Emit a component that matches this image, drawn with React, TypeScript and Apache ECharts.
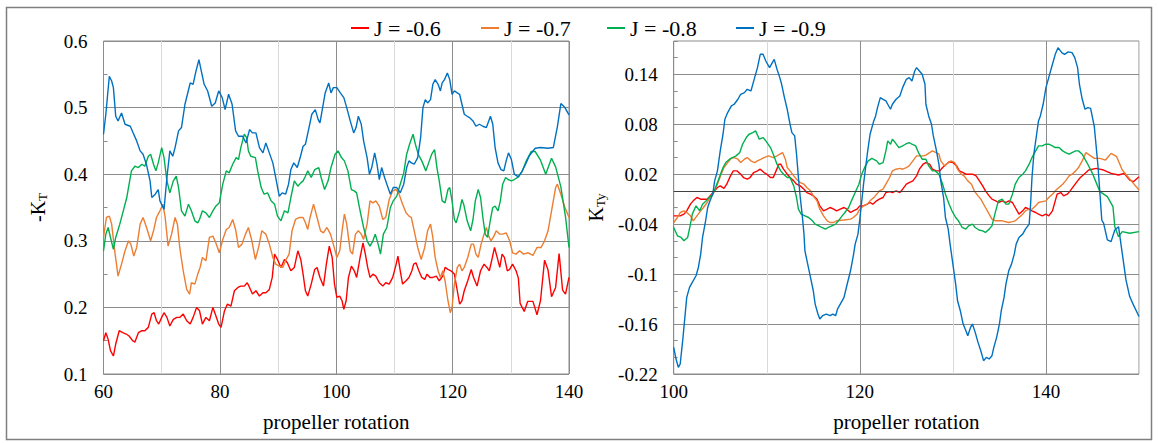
import React, { useEffect, useRef } from 'react';
import * as echarts from 'echarts';

// ---------- data ----------
const seriesNames = ['J = -0.6', 'J = -0.7', 'J = -0.8', 'J = -0.9'];
const seriesColors = ['#FF0000', '#ED7D31', '#00B050', '#0070C0'];

const leftXTickLabels = ['60', '80', '100', '120', '140'];
const leftYTickLabels = ['0.1', '0.2', '0.3', '0.4', '0.5', '0.6'];
const rightXTickLabels = ['100', '120', '140'];
const rightYTickLabels = ['-0.22', '-0.16', '-0.1', '-0.04', '0.02', '0.08', '0.14'];

// Left chart: -K_T vs propeller rotation
const leftJ06 = [[60,0.15],[60.4,0.162],[60.8,0.152],[61.2,0.135],[61.7,0.127],[62.1,0.145],[62.7,0.165],[63.3,0.162],[63.9,0.16],[64.4,0.157],[65.0,0.15],[65.4,0.148],[66.0,0.162],[66.6,0.165],[67.1,0.165],[67.7,0.17],[68.3,0.19],[68.7,0.192],[69.1,0.18],[69.5,0.175],[70.0,0.185],[70.4,0.192],[70.9,0.185],[71.4,0.172],[72.0,0.182],[72.6,0.185],[73.1,0.185],[73.7,0.19],[74.3,0.18],[74.9,0.175],[75.4,0.185],[76.0,0.2],[76.5,0.195],[77.0,0.175],[77.6,0.185],[78.2,0.18],[78.8,0.2],[79.2,0.19],[79.8,0.175],[80.2,0.17],[80.8,0.195],[81.3,0.205],[81.9,0.202],[82.5,0.225],[83.1,0.23],[83.6,0.232],[84.2,0.232],[84.7,0.237],[85.1,0.23],[85.6,0.22],[86.2,0.225],[86.8,0.217],[87.4,0.222],[87.9,0.222],[88.5,0.227],[89.0,0.245],[89.4,0.28],[89.9,0.272],[90.5,0.26],[91.1,0.272],[91.6,0.267],[92.2,0.255],[92.8,0.26],[93.4,0.285],[93.9,0.272],[94.3,0.25],[94.7,0.225],[95.1,0.217],[95.7,0.235],[96.3,0.257],[96.7,0.26],[97.2,0.245],[97.8,0.232],[98.3,0.265],[98.8,0.292],[99.3,0.275],[99.7,0.235],[100.1,0.215],[100.6,0.217],[101.0,0.21],[101.3,0.197],[101.7,0.21],[102.1,0.245],[102.6,0.262],[103.1,0.255],[103.5,0.245],[104.1,0.275],[104.6,0.297],[105.0,0.28],[105.4,0.26],[105.8,0.245],[106.3,0.25],[106.8,0.247],[107.4,0.237],[108.0,0.232],[108.5,0.237],[109.1,0.235],[109.7,0.245],[110.3,0.265],[110.6,0.277],[111.0,0.255],[111.4,0.235],[112.0,0.24],[112.5,0.245],[113.0,0.255],[113.3,0.265],[113.7,0.267],[114.2,0.255],[114.7,0.245],[115.2,0.242],[115.6,0.25],[116.1,0.245],[116.6,0.245],[117.2,0.247],[117.7,0.24],[118.3,0.247],[118.7,0.26],[119.2,0.257],[119.7,0.255],[120.3,0.25],[120.8,0.225],[121.2,0.205],[121.6,0.21],[122.0,0.225],[122.6,0.24],[123.2,0.257],[123.6,0.245],[124.2,0.232],[124.8,0.255],[125.4,0.265],[125.9,0.26],[126.3,0.255],[126.7,0.27],[127.2,0.29],[127.6,0.277],[128.1,0.26],[128.5,0.28],[128.9,0.275],[129.4,0.255],[129.8,0.257],[130.3,0.265],[130.9,0.255],[131.3,0.244],[131.6,0.206],[132.3,0.194],[132.9,0.209],[133.8,0.209],[134.5,0.189],[135.1,0.21],[135.8,0.271],[136.4,0.256],[137.0,0.216],[137.7,0.23],[138.3,0.281],[138.9,0.226],[139.4,0.22],[140,0.245]];

const leftJ07 = [[60,0.305],[60.5,0.335],[61.0,0.337],[61.4,0.325],[62.0,0.28],[62.5,0.247],[63.1,0.265],[63.7,0.285],[64.3,0.3],[64.7,0.295],[65.2,0.277],[65.7,0.29],[66.3,0.325],[66.8,0.335],[67.4,0.32],[68.1,0.3],[68.6,0.315],[69.1,0.335],[69.7,0.345],[70.2,0.355],[70.6,0.335],[71.1,0.292],[71.7,0.31],[72.3,0.335],[72.7,0.325],[73.1,0.29],[73.7,0.255],[74.3,0.227],[74.8,0.22],[75.1,0.237],[75.7,0.235],[76.2,0.25],[76.6,0.26],[77.0,0.275],[77.6,0.27],[78.2,0.305],[78.8,0.307],[79.3,0.297],[79.9,0.282],[80.5,0.302],[81.1,0.317],[81.6,0.32],[82.2,0.332],[82.7,0.317],[83.2,0.29],[83.8,0.295],[84.4,0.31],[84.9,0.32],[85.5,0.3],[86.1,0.272],[86.7,0.292],[87.2,0.315],[87.9,0.31],[88.5,0.295],[89.1,0.275],[89.6,0.265],[90.2,0.262],[90.8,0.26],[91.4,0.272],[91.9,0.28],[92.4,0.315],[93.0,0.332],[93.7,0.335],[94.3,0.335],[94.7,0.327],[95.1,0.317],[95.5,0.335],[96.1,0.355],[96.7,0.335],[97.3,0.315],[97.8,0.312],[98.4,0.32],[99.0,0.31],[99.5,0.295],[100.1,0.275],[100.6,0.285],[101.0,0.315],[101.4,0.34],[101.8,0.325],[102.4,0.285],[102.8,0.28],[103.3,0.31],[103.8,0.315],[104.3,0.31],[104.7,0.302],[105.3,0.325],[105.8,0.36],[106.3,0.357],[106.8,0.36],[107.4,0.352],[108.0,0.332],[108.5,0.335],[109.1,0.362],[109.7,0.375],[110.3,0.377],[110.8,0.37],[111.4,0.355],[112.0,0.342],[112.5,0.337],[112.9,0.335],[113.4,0.315],[114.0,0.29],[114.6,0.272],[115.2,0.29],[115.7,0.315],[116.2,0.325],[116.6,0.305],[117.0,0.275],[117.5,0.255],[117.9,0.245],[118.3,0.255],[118.7,0.24],[119.2,0.21],[119.6,0.192],[119.9,0.2],[120.3,0.235],[120.8,0.26],[121.2,0.265],[121.6,0.255],[122.0,0.26],[122.6,0.275],[123.2,0.295],[123.6,0.295],[124.0,0.28],[124.4,0.275],[124.9,0.295],[125.4,0.31],[125.8,0.32],[126.2,0.307],[126.6,0.3],[127.1,0.307],[127.5,0.315],[128.1,0.31],[128.6,0.31],[129.2,0.312],[129.8,0.3],[130.3,0.282],[130.9,0.28],[131.5,0.285],[132.2,0.28],[133.0,0.282],[133.8,0.278],[134.5,0.29],[135.2,0.29],[135.8,0.3],[136.4,0.315],[137.0,0.345],[137.7,0.38],[138.0,0.385],[138.6,0.37],[139.3,0.35],[140,0.335]];

const leftJ08 = [[60,0.285],[60.4,0.31],[60.8,0.32],[61.2,0.305],[61.7,0.287],[62.1,0.305],[62.8,0.325],[63.4,0.345],[64.0,0.365],[64.4,0.385],[64.8,0.405],[65.4,0.412],[66.0,0.41],[66.6,0.415],[67.1,0.412],[67.7,0.427],[68.1,0.43],[68.6,0.415],[69.0,0.405],[69.4,0.417],[70.0,0.44],[70.4,0.425],[70.9,0.39],[71.4,0.372],[72.0,0.39],[72.5,0.397],[72.9,0.38],[73.4,0.345],[74.0,0.337],[74.6,0.355],[75.1,0.345],[75.7,0.33],[76.2,0.327],[76.5,0.332],[77.0,0.345],[77.6,0.342],[78.2,0.335],[78.8,0.345],[79.3,0.352],[79.9,0.357],[80.5,0.385],[81.1,0.405],[81.6,0.402],[82.2,0.415],[82.8,0.425],[83.2,0.422],[83.6,0.44],[84.2,0.46],[84.6,0.455],[84.9,0.435],[85.3,0.427],[86.1,0.425],[86.5,0.405],[87.1,0.38],[87.6,0.37],[88.2,0.372],[88.8,0.36],[89.4,0.355],[89.9,0.337],[90.5,0.33],[91.1,0.345],[91.7,0.342],[92.2,0.365],[92.8,0.39],[93.4,0.382],[93.9,0.387],[94.3,0.39],[94.7,0.397],[95.1,0.405],[95.7,0.395],[96.3,0.407],[97.0,0.41],[97.4,0.395],[98.0,0.377],[98.6,0.39],[99.1,0.41],[99.8,0.43],[100.3,0.435],[100.9,0.425],[101.4,0.42],[102.0,0.405],[102.6,0.377],[103.1,0.375],[103.5,0.372],[104.1,0.345],[104.7,0.32],[105.3,0.3],[105.8,0.292],[106.3,0.3],[106.7,0.31],[107.2,0.295],[107.6,0.28],[108.1,0.31],[108.7,0.32],[109.3,0.35],[109.8,0.36],[110.4,0.367],[111.0,0.385],[111.6,0.402],[112.1,0.43],[112.6,0.445],[113.2,0.46],[113.6,0.445],[114.1,0.43],[114.7,0.42],[115.4,0.405],[116.0,0.42],[116.4,0.43],[116.9,0.437],[117.3,0.41],[117.7,0.39],[118.2,0.36],[118.7,0.357],[119.2,0.377],[119.5,0.38],[119.9,0.36],[120.3,0.332],[120.6,0.327],[121.2,0.345],[121.6,0.362],[121.9,0.355],[122.5,0.33],[123.1,0.315],[123.5,0.332],[123.9,0.36],[124.4,0.377],[124.8,0.365],[125.2,0.335],[125.6,0.31],[126.0,0.305],[126.5,0.332],[126.9,0.35],[127.3,0.352],[127.8,0.345],[128.2,0.36],[128.6,0.385],[129.1,0.395],[129.5,0.392],[130.1,0.39],[130.6,0.392],[131.3,0.396],[132.0,0.405],[132.6,0.419],[133.5,0.434],[134.2,0.434],[135.1,0.421],[136.0,0.4],[137.0,0.424],[137.7,0.411],[138.6,0.381],[139.4,0.336],[140,0.29]];

const leftJ09 = [[60,0.46],[60.4,0.49],[61.0,0.547],[61.4,0.54],[61.7,0.53],[62.1,0.487],[62.5,0.48],[63.1,0.492],[63.7,0.475],[64.6,0.472],[65.1,0.462],[65.7,0.45],[66.3,0.435],[66.8,0.43],[67.4,0.414],[68.0,0.39],[68.3,0.365],[68.9,0.37],[69.4,0.377],[69.7,0.36],[70.4,0.347],[70.9,0.395],[71.4,0.435],[71.9,0.427],[72.3,0.44],[72.9,0.465],[73.4,0.47],[74.0,0.505],[74.9,0.537],[75.4,0.535],[75.9,0.555],[76.4,0.572],[76.8,0.555],[77.3,0.535],[77.9,0.525],[78.6,0.502],[79.2,0.507],[79.8,0.525],[80.4,0.515],[80.9,0.497],[81.5,0.52],[82.1,0.505],[82.7,0.465],[83.2,0.457],[83.9,0.457],[84.5,0.447],[85.1,0.467],[85.6,0.462],[86.2,0.462],[86.8,0.44],[87.4,0.432],[87.9,0.447],[88.5,0.432],[89.1,0.417],[89.6,0.395],[90.2,0.367],[90.7,0.372],[91.3,0.37],[91.8,0.385],[92.2,0.407],[92.7,0.417],[93.3,0.41],[93.8,0.425],[94.3,0.442],[94.7,0.445],[95.2,0.465],[95.8,0.49],[96.4,0.497],[96.9,0.482],[97.2,0.477],[97.6,0.497],[98.1,0.522],[98.7,0.537],[99.1,0.522],[99.5,0.53],[100.1,0.53],[100.7,0.522],[101.3,0.515],[101.8,0.5],[102.4,0.48],[103.0,0.462],[103.4,0.47],[103.8,0.487],[104.3,0.475],[104.7,0.45],[105.3,0.425],[105.7,0.4],[106.1,0.41],[106.6,0.432],[107.0,0.415],[107.4,0.392],[107.8,0.41],[108.3,0.395],[108.7,0.385],[109.3,0.37],[109.8,0.38],[110.4,0.38],[111.0,0.372],[111.6,0.385],[112.1,0.41],[112.5,0.42],[112.9,0.417],[113.4,0.415],[114.0,0.425],[114.5,0.455],[114.9,0.5],[115.3,0.512],[115.7,0.507],[116.2,0.512],[116.6,0.535],[117.0,0.542],[117.5,0.535],[117.9,0.525],[118.2,0.537],[118.6,0.542],[119.1,0.552],[119.5,0.542],[119.9,0.52],[120.3,0.525],[120.8,0.522],[121.2,0.52],[121.6,0.505],[122.0,0.49],[122.5,0.487],[122.9,0.485],[123.5,0.48],[124.0,0.472],[124.6,0.475],[125.2,0.472],[125.8,0.47],[126.5,0.487],[126.9,0.475],[127.3,0.44],[127.8,0.417],[128.3,0.407],[128.8,0.405],[129.2,0.42],[129.6,0.432],[130.1,0.422],[130.6,0.4],[131.3,0.396],[131.9,0.404],[132.6,0.416],[133.2,0.428],[134.2,0.439],[135.1,0.44],[136.4,0.439],[137.3,0.44],[138.0,0.471],[138.6,0.506],[139.3,0.5],[140,0.489]];

// Right chart: K_Ty vs propeller rotation
const rightJ06 = [[100,-0.03],[100.7,-0.03],[101.1,-0.028],[101.4,-0.024],[101.8,-0.016],[102.1,-0.012],[102.5,-0.008],[102.9,-0.01],[103.6,-0.01],[103.9,-0.006],[104.3,-0.001],[104.7,0.004],[105.0,0.006],[105.4,0.003],[105.7,0.008],[106.1,0.018],[106.4,0.024],[106.8,0.024],[107.2,0.02],[107.5,0.016],[107.9,0.014],[108.2,0.016],[108.6,0.022],[109.0,0.024],[109.3,0.026],[109.7,0.022],[110.0,0.02],[110.4,0.016],[110.7,0.016],[111.0,0.024],[111.3,0.032],[111.5,0.032],[111.8,0.026],[112.2,0.02],[112.5,0.016],[112.9,0.012],[113.2,0.008],[113.6,0.006],[114.0,0.002],[114.3,-0.002],[114.7,-0.004],[115.0,-0.006],[115.4,-0.01],[115.7,-0.018],[116.1,-0.024],[116.5,-0.022],[116.8,-0.02],[117.2,-0.022],[117.5,-0.024],[117.9,-0.022],[118.3,-0.02],[118.6,-0.022],[119.0,-0.026],[119.3,-0.024],[119.7,-0.022],[120.0,-0.018],[120.4,-0.018],[120.8,-0.016],[121.1,-0.014],[121.4,-0.016],[121.8,-0.012],[122.1,-0.01],[122.5,-0.008],[122.8,-0.002],[123.2,-0.001],[123.5,-0.002],[123.9,0],[124.3,-0.002],[124.6,0.002],[125.0,0.008],[125.3,0.01],[125.7,0.012],[126.1,0.018],[126.4,0.026],[126.8,0.032],[127.1,0.034],[127.5,0.032],[127.8,0.026],[128.2,0.024],[128.6,0.024],[128.9,0.028],[129.3,0.032],[129.6,0.035],[130.0,0.034],[130.4,0.03],[130.7,0.024],[131.1,0.022],[131.4,0.02],[132.1,0.02],[132.5,0.018],[132.8,0.013],[133.2,0.006],[133.5,0],[133.9,-0.006],[134.2,-0.01],[134.6,-0.012],[134.9,-0.014],[135.3,-0.012],[135.7,-0.014],[136.0,-0.012],[136.4,-0.014],[136.7,-0.02],[137.1,-0.028],[137.5,-0.024],[137.8,-0.02],[138.2,-0.022],[138.5,-0.024],[138.9,-0.026],[139.2,-0.028],[139.6,-0.03],[140.0,-0.028],[140.3,-0.03],[140.7,-0.024],[141.0,-0.012],[141.2,-0.004],[141.6,-0.002],[141.9,-0.006],[142.3,-0.004],[142.6,0],[143.0,0.006],[143.4,0.012],[143.7,0.016],[144.1,0.02],[144.6,0.025],[145.4,0.027],[146.2,0.025],[147.0,0.021],[147.8,0.019],[148.4,0.021],[149.0,0.013],[149.4,0.011],[150,0.017]];

const rightJ07 = [[100,-0.038],[100.4,-0.032],[100.7,-0.026],[101.1,-0.024],[101.4,-0.026],[101.8,-0.03],[102.1,-0.036],[102.5,-0.03],[102.9,-0.024],[103.2,-0.02],[103.6,-0.014],[103.9,-0.008],[104.3,-0.002],[104.7,0.008],[105.1,0.02],[105.4,0.028],[105.8,0.034],[106.2,0.039],[106.5,0.04],[106.9,0.038],[107.2,0.034],[107.6,0.038],[107.9,0.04],[108.3,0.036],[108.7,0.034],[109.0,0.036],[109.4,0.038],[109.7,0.04],[110.2,0.042],[110.7,0.04],[111.1,0.042],[111.4,0.044],[111.7,0.046],[112.0,0.038],[112.2,0.028],[112.5,0.024],[112.9,0.018],[113.2,0.014],[113.6,0.01],[114.0,0.008],[114.3,0.004],[114.7,0],[115.0,-0.006],[115.4,-0.012],[115.7,-0.022],[116.1,-0.03],[116.5,-0.036],[116.8,-0.038],[117.2,-0.038],[117.5,-0.036],[118.3,-0.035],[119.0,-0.034],[119.3,-0.032],[119.7,-0.028],[120.0,-0.022],[120.4,-0.018],[120.8,-0.016],[121.1,-0.012],[121.6,-0.007],[122.1,0],[122.5,0.002],[122.8,0.008],[123.2,0.016],[123.5,0.024],[123.9,0.026],[124.3,0.027],[124.6,0.026],[125.0,0.028],[125.3,0.03],[125.7,0.036],[126.1,0.042],[126.8,0.042],[127.1,0.043],[127.5,0.046],[127.8,0.048],[128.2,0.046],[128.5,0.044],[128.7,0.036],[129.1,0.03],[129.5,0.034],[129.8,0.036],[130.2,0.034],[130.5,0.026],[130.9,0.02],[131.2,0.018],[131.6,0.012],[132.0,0.008],[132.3,0],[132.7,-0.006],[133.0,-0.01],[133.5,-0.02],[133.9,-0.028],[134.2,-0.034],[134.6,-0.036],[135.3,-0.036],[136.0,-0.038],[136.4,-0.037],[136.7,-0.036],[137.1,-0.032],[137.5,-0.028],[137.8,-0.024],[138.2,-0.022],[138.5,-0.022],[138.9,-0.018],[139.2,-0.014],[139.6,-0.013],[140.0,-0.012],[140.3,-0.008],[140.7,-0.004],[141.0,0],[141.4,0.004],[141.8,0.008],[142.1,0.012],[142.5,0.018],[142.8,0.02],[143.2,0.024],[143.5,0.028],[143.9,0.036],[144.3,0.046],[145.2,0.039],[145.8,0.039],[146.4,0.037],[147.0,0.045],[147.6,0.041],[148.2,0.025],[148.8,0.017],[149.4,0.009],[150,0.001]];

const rightJ08 = [[100,-0.044],[100.4,-0.054],[100.8,-0.056],[101.1,-0.06],[101.5,-0.056],[101.8,-0.04],[102.0,-0.028],[102.4,-0.018],[102.8,-0.024],[103.1,-0.016],[103.5,-0.012],[103.8,-0.008],[104.2,-0.004],[104.5,0.004],[104.9,0.016],[105.3,0.028],[105.6,0.034],[106.0,0.038],[106.3,0.04],[106.7,0.042],[107.1,0.046],[107.4,0.056],[107.8,0.064],[108.1,0.068],[108.5,0.07],[108.8,0.072],[109.2,0.062],[109.6,0.064],[109.9,0.06],[110.4,0.052],[110.7,0.044],[111.1,0.032],[111.5,0.024],[111.8,0.02],[112.2,0.016],[112.5,0.016],[112.9,0.006],[113.2,-0.008],[113.4,-0.022],[113.7,-0.028],[114.1,-0.03],[114.5,-0.032],[114.9,-0.036],[115.2,-0.04],[115.6,-0.042],[115.9,-0.044],[116.3,-0.046],[116.6,-0.044],[117.0,-0.042],[117.4,-0.04],[117.7,-0.036],[118.1,-0.03],[118.4,-0.026],[118.8,-0.02],[119.1,-0.012],[119.5,-0.002],[119.9,0.008],[120.2,0.02],[120.6,0.03],[120.9,0.036],[121.3,0.039],[121.8,0.036],[122.1,0.032],[122.5,0.034],[122.8,0.048],[123.0,0.06],[123.3,0.056],[123.5,0.062],[123.8,0.058],[124.2,0.052],[124.6,0.054],[124.9,0.056],[125.3,0.058],[125.6,0.056],[126.0,0.054],[126.3,0.046],[126.7,0.038],[127.1,0.038],[127.4,0.03],[127.8,0.024],[128.1,0.024],[128.5,0.02],[128.9,0.008],[129.2,-0.004],[129.6,-0.016],[129.9,-0.024],[130.3,-0.032],[130.6,-0.036],[131.0,-0.044],[131.4,-0.046],[131.7,-0.042],[132.1,-0.04],[132.4,-0.044],[132.8,-0.047],[133.2,-0.048],[133.5,-0.05],[133.9,-0.046],[134.2,-0.042],[134.6,-0.024],[134.9,-0.012],[135.3,-0.01],[135.7,-0.016],[136.0,-0.016],[136.4,-0.004],[136.7,0.008],[137.1,0.016],[137.5,0.02],[137.8,0.024],[138.2,0.032],[138.5,0.04],[138.9,0.048],[139.2,0.054],[139.6,0.054],[140.0,0.056],[140.3,0.056],[140.7,0.054],[141.0,0.052],[141.4,0.052],[141.8,0.048],[142.1,0.046],[142.5,0.044],[142.8,0.046],[143.2,0.048],[143.5,0.048],[143.9,0.044],[144.4,0.034],[145.0,0.021],[145.8,-0.001],[146.6,-0.007],[147.2,-0.019],[147.4,-0.043],[147.8,-0.055],[148.2,-0.049],[149.0,-0.051],[150,-0.049]];

const rightJ09 = [[100,-0.188],[100.25,-0.202],[100.5,-0.212],[100.7,-0.208],[101.0,-0.176],[101.2,-0.152],[101.4,-0.128],[101.7,-0.116],[102.0,-0.11],[102.4,-0.102],[102.65,-0.092],[102.9,-0.076],[103.1,-0.056],[103.4,-0.038],[103.65,-0.02],[103.9,-0.012],[104.2,-0.004],[104.4,0.012],[104.7,0.024],[105.0,0.048],[105.3,0.068],[105.5,0.086],[105.8,0.094],[106.2,0.102],[106.5,0.104],[106.9,0.11],[107.2,0.116],[107.6,0.118],[107.9,0.122],[108.3,0.12],[108.7,0.136],[109.0,0.148],[109.3,0.164],[109.6,0.164],[109.9,0.156],[110.3,0.148],[110.6,0.154],[110.8,0.158],[111.1,0.146],[111.4,0.136],[111.6,0.128],[111.9,0.112],[112.2,0.098],[112.5,0.08],[112.7,0.07],[113.0,0.066],[113.2,0.044],[113.4,0.016],[113.6,-0.008],[113.8,-0.028],[114.0,-0.052],[114.1,-0.072],[114.4,-0.088],[114.7,-0.104],[115.0,-0.12],[115.2,-0.136],[115.5,-0.148],[115.7,-0.154],[116.0,-0.15],[116.4,-0.148],[116.8,-0.15],[117.1,-0.148],[117.4,-0.15],[117.6,-0.142],[117.9,-0.136],[118.3,-0.128],[118.6,-0.114],[119.0,-0.096],[119.3,-0.078],[119.5,-0.064],[119.8,-0.052],[120.0,-0.034],[120.4,0.008],[120.8,0.044],[121.1,0.068],[121.5,0.084],[121.7,0.09],[121.9,0.1],[122.2,0.112],[122.5,0.11],[122.8,0.108],[123.0,0.104],[123.3,0.098],[123.5,0.104],[123.9,0.11],[124.3,0.114],[124.6,0.124],[125.0,0.134],[125.3,0.136],[125.6,0.132],[125.9,0.144],[126.1,0.148],[126.4,0.144],[126.7,0.14],[127.0,0.128],[127.1,0.104],[127.4,0.09],[127.7,0.08],[127.9,0.066],[128.2,0.05],[128.5,0.032],[128.7,0.012],[129.0,-0.008],[129.2,-0.032],[129.5,-0.046],[129.7,-0.064],[130.0,-0.088],[130.3,-0.112],[130.5,-0.132],[130.8,-0.144],[131.1,-0.16],[131.4,-0.168],[131.6,-0.174],[131.9,-0.164],[132.1,-0.16],[132.4,-0.17],[132.7,-0.182],[133.0,-0.192],[133.3,-0.204],[133.6,-0.2],[133.9,-0.202],[134.2,-0.198],[134.4,-0.188],[134.7,-0.176],[135.0,-0.16],[135.2,-0.144],[135.5,-0.128],[135.7,-0.112],[136.0,-0.096],[136.3,-0.088],[136.6,-0.076],[136.8,-0.064],[137.1,-0.056],[137.5,-0.052],[137.8,-0.046],[138.2,-0.04],[138.35,-0.016],[138.5,0.016],[138.7,0.044],[139.0,0.068],[139.2,0.084],[139.4,0.09],[139.7,0.104],[140.0,0.124],[140.3,0.136],[140.7,0.152],[141.0,0.164],[141.3,0.172],[141.7,0.166],[142.0,0.164],[142.4,0.167],[142.8,0.166],[143.1,0.16],[143.4,0.148],[143.6,0.128],[143.9,0.11],[144.2,0.098],[144.5,0.1],[144.8,0.099],[145.2,0.077],[145.6,0.029],[145.8,-0.003],[146.0,-0.035],[146.2,-0.039],[146.6,-0.059],[147.0,-0.061],[147.4,-0.047],[147.8,-0.043],[148.2,-0.075],[148.6,-0.107],[149.0,-0.127],[149.4,-0.137],[150,-0.151]];

const zeroLineValue = [0];

// ---------- layout / style ----------
const FONT = 'Liberation Serif';
const GRID_LINE = '#8c8c8c';
const MINOR_LINE = '#d9d9d9';
const legendLefts = [346, 476, 602, 731];

const fmt = (v: number) => String(+v.toFixed(2));

export default function App() {
  const ref = useRef<HTMLDivElement>(null);

  useEffect(() => {
    if (!ref.current) return;
    const chart = echarts.init(ref.current, undefined, { renderer: 'svg' });

    const labelStyle = { fontFamily: FONT, fontSize: 19, color: '#000' };
    const nameStyle = {
      fontFamily: FONT,
      fontSize: 20,
      color: '#000',
      rich: { s: { fontFamily: FONT, fontSize: 13, color: '#000', padding: [9, 0, 0, 0] } },
    };

    const leftData = [leftJ06, leftJ07, leftJ08, leftJ09];
    const rightData = [rightJ06, rightJ07, rightJ08, rightJ09];

    const mk = (data: number[][], i: number, g: number) => ({
      type: 'line',
      name: seriesNames[i],
      data,
      xAxisIndex: g,
      yAxisIndex: g,
      showSymbol: false,
      symbol: 'none',
      lineStyle: { width: 1.4, color: seriesColors[i] },
      itemStyle: { color: seriesColors[i] },
      emphasis: { disabled: true },
      z: 3,
    });

    const series: any[] = [
      ...leftData.map((d, i) => mk(d, i, 0)),
      ...rightData.map((d, i) => mk(d, i, 1)),
    ];
    series[4].markLine = {
      silent: true,
      symbol: 'none',
      label: { show: false },
      lineStyle: { color: '#404040', width: 1, type: 'solid' },
      data: zeroLineValue.map((v) => ({ yAxis: v })),
    };

    const option: any = {
      animation: false,
      backgroundColor: '#fff',
      graphic: [
        {
          type: 'rect',
          silent: true,
          z: -10,
          shape: { x: 6.5, y: 7.5, width: 1145, height: 432 },
          style: { fill: 'none', stroke: '#7f7f7f', lineWidth: 1.5 },
        },
      ],
      legend: seriesNames.map((n, i) => ({
        data: [n],
        left: legendLefts[i],
        top: 12,
        icon: 'rect',
        itemWidth: 18,
        itemHeight: 2,
        selectedMode: false,
        textStyle: { fontFamily: FONT, fontSize: 22, color: '#000' },
      })),
      grid: [
        { left: 103.5, top: 41, width: 465.5, height: 333, show: true, borderColor: GRID_LINE, borderWidth: 1, backgroundColor: 'transparent' },
        { left: 673.7, top: 41, width: 465.3, height: 333, show: true, borderColor: GRID_LINE, borderWidth: 1, backgroundColor: 'transparent' },
      ],
      xAxis: [
        {
          gridIndex: 0, type: 'value', min: 60, max: 140, interval: 10,
          axisLine: { show: false }, axisTick: { show: false },
          splitLine: { show: true, lineStyle: { color: [GRID_LINE, MINOR_LINE], width: 1 } },
          axisLabel: { ...labelStyle, margin: 8, formatter: (v: number) => (leftXTickLabels.includes(fmt(v)) ? fmt(v) : '') },
          name: 'propeller rotation', nameLocation: 'middle', nameGap: 37, nameTextStyle: { fontFamily: FONT, fontSize: 21, color: '#000' },
        },
        {
          gridIndex: 1, type: 'value', min: 100, max: 150, interval: 10,
          axisLine: { show: false }, axisTick: { show: false },
          splitLine: { show: true, lineStyle: { color: [GRID_LINE, MINOR_LINE], width: 1 } },
          axisLabel: { ...labelStyle, margin: 8, formatter: (v: number) => (rightXTickLabels.includes(fmt(v)) ? fmt(v) : '') },
          name: 'propeller rotation', nameLocation: 'middle', nameGap: 37, nameTextStyle: { fontFamily: FONT, fontSize: 21, color: '#000' },
        },
      ],
      yAxis: [
        {
          gridIndex: 0, type: 'value', min: 0.1, max: 0.6, interval: 0.05,
          axisLine: { show: false },
          axisTick: { show: true, inside: true, length: 4, lineStyle: { color: GRID_LINE } },
          splitLine: { show: true, lineStyle: { color: [GRID_LINE, 'rgba(0,0,0,0)'], width: 1 } },
          axisLabel: { ...labelStyle, margin: 16, formatter: (v: number) => (leftYTickLabels.includes(fmt(v)) ? fmt(v) : '') },
          name: '-K{s|T}', nameLocation: 'middle', nameRotate: 90, nameGap: 55, nameTextStyle: nameStyle,
        },
        {
          gridIndex: 1, type: 'value', min: -0.22, max: 0.18, interval: 0.02,
          axisLine: { show: false },
          axisTick: { show: true, inside: true, length: 4, lineStyle: { color: GRID_LINE } },
          splitLine: { show: true, lineStyle: { color: [GRID_LINE, 'rgba(0,0,0,0)', 'rgba(0,0,0,0)'], width: 1 } },
          axisLabel: { ...labelStyle, margin: 16, formatter: (v: number) => (rightYTickLabels.includes(fmt(v)) ? fmt(v) : '') },
          name: 'K{s|Ty}', nameLocation: 'middle', nameRotate: 90, nameGap: 67, nameTextStyle: nameStyle,
        },
      ],
      series,
    };

    chart.setOption(option);
    return () => chart.dispose();
  }, []);

  return (
    <div
      ref={ref}
      style={{ position: 'absolute', left: 0, top: 0, width: 1158, height: 443, background: '#fff' }}
    />
  );
}
